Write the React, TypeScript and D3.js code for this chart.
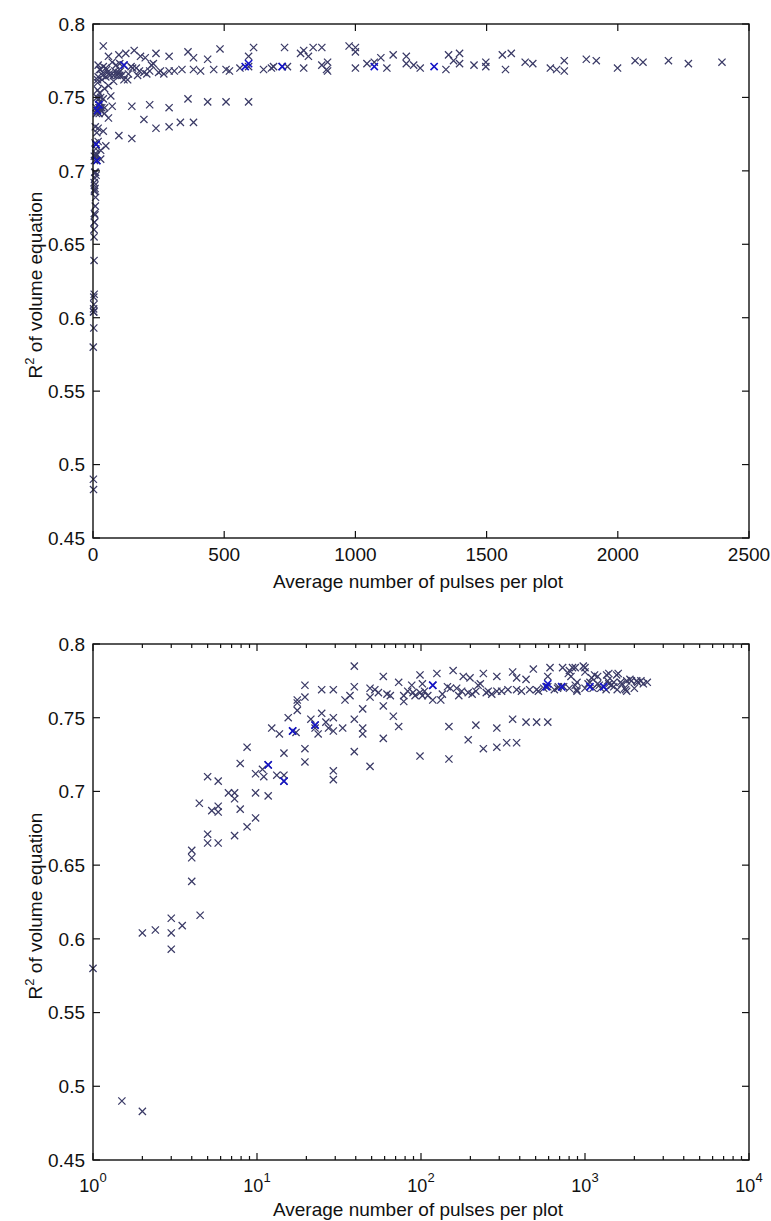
import * as d3 from 'd3';
import { useEffect, useRef } from 'react';

// average number of pulses per plot (x) and R^2 of the volume equation (y)
const pulses = [
  1, 1.5, 2, 2, 2.4, 3, 3, 3, 3.5, 4, 4, 4, 4.5, 4.45, 5, 5, 5, 5.3, 5.8, 5.8, 5.8, 5.8,
  6.7, 7.3, 7.3, 7.3, 7.9, 7.9, 8.7, 8.7, 9.8, 9.8, 9.8, 10.8, 11, 11.7, 11.7, 12.3, 13.2,
  13.7, 14.6, 14.6, 14.6, 15.5, 16.5, 17.3, 17.6, 17.6, 17.6, 19.6, 19.6, 19.6, 19.6, 21.3,
  22.6, 22.6, 23.6, 24.8, 24.8, 26.3, 27.3, 29.2, 29.2, 29.2, 29.2, 29.2, 33.3, 34.4, 36.9,
  39.2, 39.2, 39.2, 39.2, 44.1, 44.1, 44.1, 48.9, 48.9, 48.9, 52.3, 55, 58.9, 58.9, 58.9,
  62, 65, 67.8, 73.1, 73.1, 78.5, 78.5, 83, 87.8, 89.4, 92, 98.6, 98.6, 98.6, 102, 102,
  105, 110, 118, 118, 125, 132, 135, 145, 148, 148, 151, 157, 165, 170, 177, 181, 194, 194,
  199, 205, 216, 216, 223, 230, 240, 240, 250, 257, 270, 290, 290, 290, 290, 310, 333, 339,
  362, 362, 383, 383, 383, 410, 437, 437, 460, 484, 507, 507, 520, 560, 593, 593, 593,
  612, 650, 680, 688, 721, 730, 741, 791, 803, 803, 821, 839, 872, 872, 890, 894, 894,
  976, 1000, 1000, 1000, 1044, 1072, 1097, 1120, 1144, 1194, 1194, 1222, 1247, 1345,
  1355, 1374, 1397, 1397, 1452, 1497, 1497, 1560, 1572, 1594, 1647, 1676, 1743, 1767,
  1796, 1796, 1880, 1918, 1999, 2066, 2096, 2193, 2269, 2397,
];
const r2 = [
  0.58, 0.49, 0.483, 0.604, 0.606, 0.614, 0.604, 0.593, 0.609, 0.639, 0.655, 0.66, 0.616,
  0.692, 0.71, 0.671, 0.665, 0.687, 0.707, 0.69, 0.686, 0.665, 0.699, 0.699, 0.695, 0.67,
  0.719, 0.688, 0.73, 0.676, 0.712, 0.699, 0.682, 0.715, 0.71, 0.718, 0.697, 0.743, 0.711,
  0.739, 0.726, 0.711, 0.707, 0.75, 0.741, 0.74, 0.762, 0.76, 0.755, 0.772, 0.764, 0.729,
  0.72, 0.749, 0.743, 0.745, 0.739, 0.769, 0.753, 0.747, 0.743, 0.769, 0.75, 0.741, 0.714,
  0.708, 0.743, 0.762, 0.765, 0.785, 0.771, 0.749, 0.727, 0.756, 0.743, 0.739, 0.77, 0.764,
  0.717, 0.769, 0.767, 0.778, 0.758, 0.736, 0.766, 0.765, 0.751, 0.774, 0.744, 0.761, 0.765,
  0.768, 0.772, 0.767, 0.765, 0.779, 0.724, 0.767, 0.773, 0.765, 0.768, 0.765, 0.772, 0.762,
  0.78, 0.762, 0.766, 0.771, 0.744, 0.722, 0.77, 0.782, 0.77, 0.765, 0.768, 0.778, 0.767,
  0.735, 0.777, 0.766, 0.745, 0.768, 0.772, 0.773, 0.78, 0.729, 0.767, 0.768, 0.766, 0.778,
  0.768, 0.743, 0.73, 0.768, 0.733, 0.769, 0.781, 0.749, 0.733, 0.777, 0.769, 0.768, 0.776,
  0.747, 0.769, 0.783, 0.747, 0.769, 0.768, 0.77, 0.747, 0.778, 0.771, 0.784, 0.769, 0.77,
  0.771, 0.771, 0.784, 0.771, 0.78, 0.782, 0.77, 0.778, 0.784, 0.784, 0.772, 0.769, 0.774,
  0.768, 0.785, 0.784, 0.781, 0.77, 0.773, 0.774, 0.777, 0.77, 0.779, 0.778, 0.773, 0.772,
  0.77, 0.769, 0.779, 0.775, 0.78, 0.773, 0.772, 0.774, 0.771, 0.779, 0.769, 0.78, 0.774,
  0.773, 0.77, 0.769, 0.775, 0.768, 0.776, 0.775, 0.77, 0.775, 0.774, 0.775, 0.773, 0.774,
];

// points that show up bright blue (overplotted)
const bluePulses = [11.7, 14.6, 16.5, 22.6, 118, 580, 593, 721, 1072, 1300];
const blueR2 = [0.718, 0.707, 0.741, 0.745, 0.772, 0.771, 0.773, 0.771, 0.771, 0.771];

const yTicks = [0.45, 0.5, 0.55, 0.6, 0.65, 0.7, 0.75, 0.8];
const linTicks = [0, 500, 1000, 1500, 2000, 2500];
const logTicks = [1, 10, 100, 1000, 10000];

const W = 771;
const H = 1221;
const FONT = '"Liberation Sans", Arial, sans-serif';
const LEFT = 93;
const RIGHT = 749;

export default function App() {
  const svgRef = useRef<SVGSVGElement | null>(null);

  useEffect(() => {
    if (!svgRef.current) return;
    const svg = d3.select(svgRef.current);
    svg.selectAll('*').remove();

    const pts = pulses.map((p, i) => ({ p, r: r2[i] }));
    const blue = bluePulses.map((p, i) => ({ p, r: blueR2[i] }));
    const mark = 'M-3.6,-3.6L3.6,3.6M-3.6,3.6L3.6,-3.6';

    const panels = [
      { top: 24, bottom: 538, log: false },
      { top: 644, bottom: 1160, log: true },
    ];

    panels.forEach(cfg => {
      const x: any = cfg.log
        ? d3.scaleLog().domain([1, 10000]).range([LEFT, RIGHT])
        : d3.scaleLinear().domain([0, 2500]).range([LEFT, RIGHT]);
      const y = d3.scaleLinear().domain([0.45, 0.8]).range([cfg.bottom, cfg.top]);
      const g = svg.append('g');

      // markers
      g.append('g').selectAll('path').data(pts).join('path')
        .attr('d', mark)
        .attr('transform', d => `translate(${x(d.p)},${y(d.r)})`)
        .attr('fill', 'none')
        .attr('stroke', '#3a3a66')
        .attr('stroke-width', 1.25);
      g.append('g').selectAll('path').data(blue).join('path')
        .attr('d', mark)
        .attr('transform', d => `translate(${x(d.p)},${y(d.r)})`)
        .attr('fill', 'none')
        .attr('stroke', '#1414c8')
        .attr('stroke-width', 1.6);

      // axes box
      g.append('rect')
        .attr('x', LEFT).attr('y', cfg.top)
        .attr('width', RIGHT - LEFT).attr('height', cfg.bottom - cfg.top)
        .attr('fill', 'none').attr('stroke', '#111').attr('stroke-width', 1.4);

      // y ticks (left + right, inward)
      yTicks.forEach(t => {
        const yy = y(t);
        g.append('line').attr('x1', LEFT).attr('x2', LEFT + 7).attr('y1', yy).attr('y2', yy)
          .attr('stroke', '#111').attr('stroke-width', 1.2);
        g.append('line').attr('x1', RIGHT - 7).attr('x2', RIGHT).attr('y1', yy).attr('y2', yy)
          .attr('stroke', '#111').attr('stroke-width', 1.2);
        g.append('text').attr('x', 85).attr('y', yy).attr('dy', '0.36em')
          .attr('text-anchor', 'end').attr('font-family', FONT).attr('font-size', 19)
          .attr('fill', '#111').text(String(+t.toFixed(2)));
      });

      // x ticks
      const xtick = (v: number, len: number) => {
        const xx = x(v);
        g.append('line').attr('x1', xx).attr('x2', xx).attr('y1', cfg.bottom).attr('y2', cfg.bottom - len)
          .attr('stroke', '#111').attr('stroke-width', 1.2);
        g.append('line').attr('x1', xx).attr('x2', xx).attr('y1', cfg.top).attr('y2', cfg.top + len)
          .attr('stroke', '#111').attr('stroke-width', 1.2);
      };

      if (cfg.log) {
        x.ticks().forEach((v: number) => {
          const major = logTicks.includes(v);
          xtick(v, major ? 7 : 4);
        });
        logTicks.forEach(v => {
          const t = g.append('text').attr('x', x(v)).attr('y', cfg.bottom + 32)
            .attr('text-anchor', 'middle').attr('font-family', FONT).attr('font-size', 18)
            .attr('fill', '#111');
          t.append('tspan').text('10');
          t.append('tspan').attr('dy', -10).attr('font-size', 13).text(String(Math.round(Math.log10(v))));
        });
      } else {
        linTicks.forEach(v => {
          xtick(v, 7);
          g.append('text').attr('x', x(v)).attr('y', cfg.bottom + 23)
            .attr('text-anchor', 'middle').attr('font-family', FONT).attr('font-size', 19)
            .attr('fill', '#111').text(String(v));
        });
      }

      // axis titles
      g.append('text')
        .attr('x', (LEFT + RIGHT) / 2 - 3)
        .attr('y', cfg.bottom + (cfg.log ? 56 : 50))
        .attr('text-anchor', 'middle').attr('font-family', FONT).attr('font-size', 19)
        .attr('fill', '#111')
        .text('Average number of pulses per plot');

      const yl = g.append('text')
        .attr('transform', `translate(42,${(cfg.top + cfg.bottom) / 2 + 4}) rotate(-90)`)
        .attr('text-anchor', 'middle').attr('font-family', FONT).attr('font-size', 19)
        .attr('fill', '#111');
      yl.append('tspan').text('R');
      yl.append('tspan').attr('dy', -8).attr('font-size', 13).text('2');
      yl.append('tspan').attr('dy', 8).text(' of volume equation');
    });
  }, []);

  return (
    <svg
      ref={svgRef}
      width={W}
      height={H}
      style={{ position: 'absolute', left: 0, top: 0, background: '#fff' }}
    />
  );
}
